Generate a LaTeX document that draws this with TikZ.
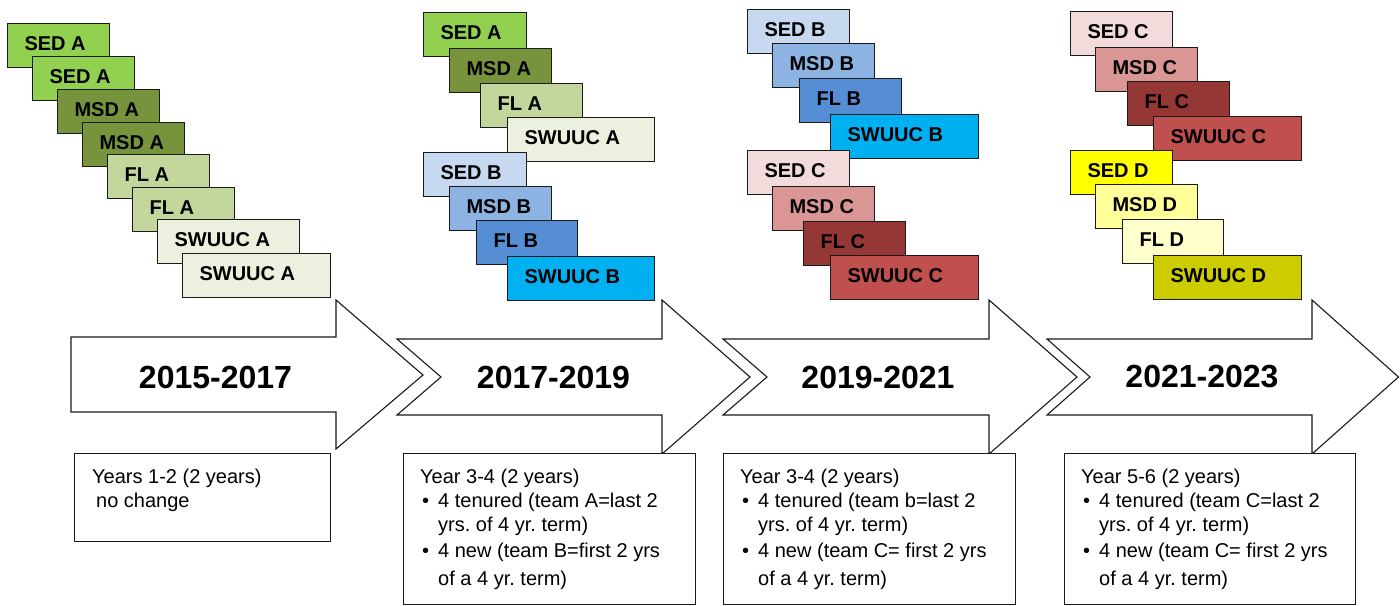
\documentclass[tikz,border=0pt]{standalone}
\usepackage{fontspec}
\setmainfont{Liberation Sans}
\frenchspacing
\definecolor{sedA}{HTML}{92D050}
\definecolor{msdA}{HTML}{77933C}
\definecolor{flA}{HTML}{C3D69B}
\definecolor{swA}{HTML}{EBF1DE}
\definecolor{sedB}{HTML}{C6D9F1}
\definecolor{msdB}{HTML}{8DB3E2}
\definecolor{flB}{HTML}{558ED5}
\definecolor{swB}{HTML}{00B0F0}
\definecolor{sedC}{HTML}{F2DCDB}
\definecolor{msdC}{HTML}{D99694}
\definecolor{flC}{HTML}{953735}
\definecolor{swC}{HTML}{C0504D}
\definecolor{sedD}{HTML}{FFFF00}
\definecolor{msdD}{HTML}{FFFF99}
\definecolor{flD}{HTML}{FFFFCC}
\definecolor{swD}{HTML}{CCCC00}
\definecolor{ink}{HTML}{1A1A1A}
\tikzset{
  team/.style={draw=ink, line width=1.1pt, anchor=north west, minimum height=44pt,
    inner xsep=17pt, inner ysep=0pt, align=flush left, text depth=4pt, text width=#1,
    font=\bfseries\fontsize{20}{24}\selectfont},
  period/.style={draw=ink, line width=1.1pt, fill=white, line join=miter},
  yearlabel/.style={inner sep=0pt, font=\bfseries\fontsize{32}{38}\selectfont},
  infobox/.style={draw=ink, line width=1.1pt, fill=white, anchor=north west, inner sep=0pt},
  infotext/.style={anchor=north west, inner sep=0pt, align=left,
    font=\fontsize{20}{24}\selectfont},
}
\newcommand{\bul}{\hspace*{2pt}\makebox[16pt][l]{•}}
\newcommand{\hang}{\hspace*{18pt}}
\begin{document}
\begin{tikzpicture}[x=1pt,y=-1pt]
\useasboundingbox (0,0) rectangle (1400,605);
% ---- column 1
\node[team=68pt,  fill=sedA] (a1) at (7,23)   {SED A};
\node[team=68pt,  fill=sedA] (a2) at (32,56)  {SED A};
\node[team=68pt,  fill=msdA] (a3) at (57,89)  {MSD A};
\node[team=68pt,  fill=msdA] (a4) at (82,122) {MSD A};
\node[team=68pt,  fill=flA]  (a5) at (107,154) {FL A};
\node[team=68pt,  fill=flA]  (a6) at (132,187) {FL A};
\node[team=108pt, fill=swA]  (a7) at (157,219) {SWUUC A};
\node[team=114pt, fill=swA]  (a8) at (182,253) {SWUUC A};
% ---- column 2
\node[team=69pt,  fill=sedA] (b1) at (423,12)  {SED A};
\node[team=68pt,  fill=msdA] (b2) at (449,48)  {MSD A};
\node[team=68pt,  fill=flA]  (b3) at (480,83)  {FL A};
\node[team=113pt, fill=swA]  (b4) at (507,117) {SWUUC A};
\node[team=69pt,  fill=sedB] (b5) at (423,152) {SED B};
\node[team=68pt,  fill=msdB] (b6) at (449,186) {MSD B};
\node[team=67pt,  fill=flB]  (b7) at (476,220) {FL B};
\node[team=113pt, fill=swB]  (b8) at (507,256) {SWUUC B};
% ---- column 3
\node[team=68pt,  fill=sedB] (c1) at (747,9)   {SED B};
\node[team=68pt,  fill=msdB] (c2) at (772,43)  {MSD B};
\node[team=68pt,  fill=flB]  (c3) at (799,78)  {FL B};
\node[team=114pt, fill=swB]  (c4) at (830,114) {SWUUC B};
\node[team=68pt,  fill=sedC] (c5) at (747,150) {SED C};
\node[team=68pt,  fill=msdC] (c6) at (772,186) {MSD C};
\node[team=68pt,  fill=flC]  (c7) at (803,221) {FL C};
\node[team=114pt, fill=swC]  (c8) at (830,255) {SWUUC C};
% ---- column 4
\node[team=68pt,  fill=sedC] (d1) at (1070,11)  {SED C};
\node[team=68pt,  fill=msdC] (d2) at (1095,47)  {MSD C};
\node[team=68pt,  fill=flC]  (d3) at (1127,81)  {FL C};
\node[team=114pt, fill=swC]  (d4) at (1153,116) {SWUUC C};
\node[team=68pt,  fill=sedD] (d5) at (1070,150) {SED D};
\node[team=68pt,  fill=msdD] (d6) at (1095,184) {MSD D};
\node[team=67pt,  fill=flD]  (d7) at (1122,219) {FL D};
\node[team=114pt, fill=swD]  (d8) at (1153,255) {SWUUC D};
% ---- period arrows
\draw[period] (71,337) -- (336,337) -- (336,300) -- (423,375) -- (336,449) -- (336,412) -- (71,412) -- cycle;
\draw[period] (397,339) -- (662,339) -- (662,300) -- (750,377) -- (662,454) -- (662,415) -- (397,415) -- (441,377) -- cycle;
\draw[period] (723,339) -- (989,339) -- (989,300) -- (1077,377) -- (989,454) -- (989,415) -- (723,415) -- (767,377) -- cycle;
\draw[period] (1047,339) -- (1312,339) -- (1312,300) -- (1398.5,377) -- (1312,454) -- (1312,415) -- (1047,415) -- (1090,377) -- cycle;
\node[yearlabel] (y1) at (215.5,377) {2015-2017};
\node[yearlabel] (y2) at (553.5,377) {2017-2019};
\node[yearlabel] (y3) at (878,377) {2019-2021};
\node[yearlabel] (y4) at (1202,377) {2021-2023};
% ---- info boxes
\node[infobox, minimum width=256pt, minimum height=88pt] (t1) at (74,453) {};
\node[infobox, minimum width=292pt, minimum height=150.5pt] (t2) at (403,453) {};
\node[infobox, minimum width=292pt, minimum height=150.5pt] (t3) at (723,453) {};
\node[infobox, minimum width=291pt, minimum height=150.5pt] (t4) at (1064,453) {};
\node[infotext] (x1) at ([shift={(18,15.7)}]t1.north west)
  {Years 1-2 (2 years)\\ \hspace*{4pt}no change};
\node[infotext] (x2) at ([shift={(17,15.7)}]t2.north west)
  {Year 3-4 (2 years)\\
   \bul 4 tenured (team A=last 2\\
   \hang yrs. of 4 yr. term)\\[2pt]
   \bul 4 new (team B=first 2 yrs\\[4pt]
   \hang of a 4 yr. term)};
\node[infotext] (x3) at ([shift={(17,15.7)}]t3.north west)
  {Year 3-4 (2 years)\\
   \bul 4 tenured (team b=last 2\\
   \hang yrs. of 4 yr. term)\\[2pt]
   \bul 4 new (team C= first 2 yrs\\[4pt]
   \hang of a 4 yr. term)};
\node[infotext] (x4) at ([shift={(17,15.7)}]t4.north west)
  {Year 5-6 (2 years)\\
   \bul 4 tenured (team C=last 2\\
   \hang yrs. of 4 yr. term)\\[2pt]
   \bul 4 new (team C= first 2 yrs\\[4pt]
   \hang of a 4 yr. term)};
\end{tikzpicture}
\end{document}
